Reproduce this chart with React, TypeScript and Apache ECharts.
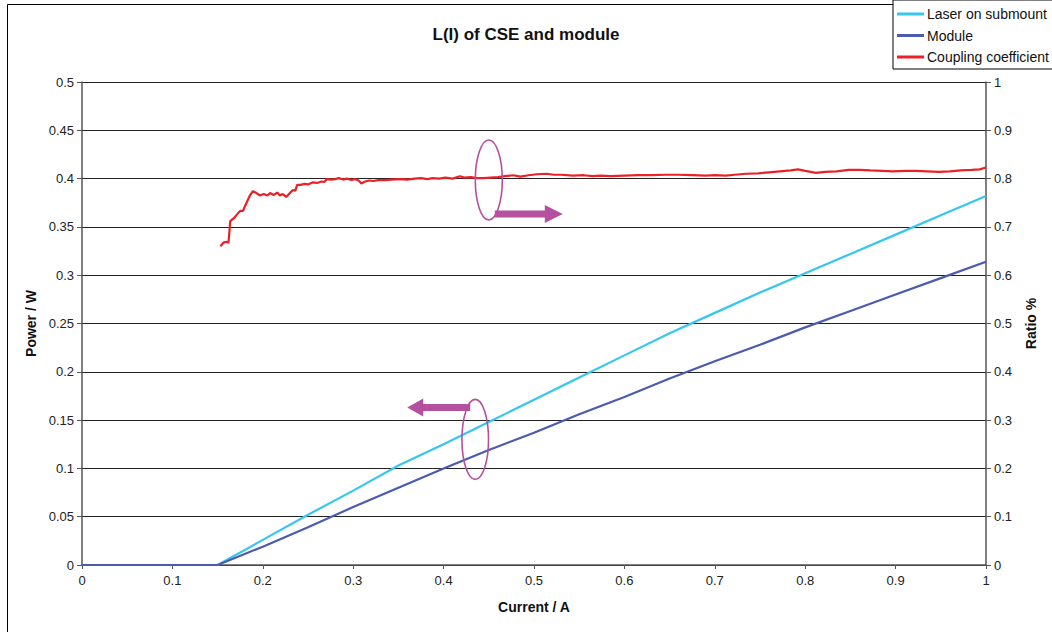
import React, { useEffect, useRef } from "react";
import * as echarts from "echarts";

const FONT = "'Liberation Sans', Arial, sans-serif";

const seriesNames = ["Laser on submount", "Module", "Coupling coefficient"];

const laserCurrent = [0, 0.05, 0.1, 0.15, 0.2, 0.25, 0.3, 0.35, 0.4, 0.45, 0.5, 0.55, 0.6, 0.65, 0.7, 0.75, 0.8, 0.85, 0.9, 0.95, 1.0];
const laserPower = [0, 0, 0, 0, 0.026, 0.052, 0.077, 0.103, 0.125, 0.148, 0.171, 0.194, 0.217, 0.24, 0.261, 0.282, 0.302, 0.322, 0.342, 0.362, 0.382];

const moduleCurrent = [0, 0.05, 0.1, 0.15, 0.2, 0.25, 0.3, 0.35, 0.4, 0.45, 0.5, 0.55, 0.6, 0.65, 0.7, 0.75, 0.8, 0.85, 0.9, 0.95, 1.0];
const modulePower = [0, 0, 0, 0, 0.019, 0.039, 0.06, 0.08, 0.1, 0.119, 0.137, 0.156, 0.174, 0.193, 0.211, 0.228, 0.246, 0.263, 0.28, 0.297, 0.314];

const couplingCurrent = [
  0.153, 0.157, 0.16, 0.162, 0.164, 0.168, 0.172, 0.175, 0.178, 0.182, 0.186, 0.189, 0.193, 0.197,
  0.201, 0.205, 0.208, 0.212, 0.216, 0.219, 0.222, 0.226, 0.23, 0.233, 0.236, 0.238, 0.242, 0.246,
  0.25, 0.255, 0.26, 0.265, 0.268, 0.271, 0.276, 0.28, 0.284, 0.289, 0.293, 0.298, 0.302, 0.306,
  0.309, 0.313, 0.318, 0.322, 0.328, 0.335, 0.342, 0.352, 0.36, 0.368, 0.375, 0.382, 0.388, 0.395,
  0.402, 0.41, 0.418, 0.423, 0.43, 0.437, 0.444, 0.452, 0.46, 0.468, 0.477, 0.485, 0.494, 0.503,
  0.514, 0.522, 0.53, 0.543, 0.555, 0.565, 0.573, 0.585, 0.6, 0.615, 0.63, 0.645, 0.66, 0.675,
  0.69, 0.7, 0.712, 0.722, 0.735, 0.748, 0.76, 0.772, 0.784, 0.792, 0.8, 0.812, 0.822, 0.835,
  0.848, 0.86, 0.872, 0.885, 0.897, 0.91, 0.922, 0.935, 0.948, 0.96, 0.972, 0.984, 0.993, 1.0,
];
const couplingRatio = [
  0.66, 0.668, 0.669, 0.667, 0.712, 0.718, 0.727, 0.733, 0.733, 0.75, 0.766, 0.774, 0.77, 0.765,
  0.768, 0.765, 0.77, 0.766, 0.771, 0.765, 0.768, 0.762, 0.77, 0.776, 0.775, 0.787, 0.787, 0.789,
  0.788, 0.792, 0.791, 0.794, 0.793, 0.799, 0.798, 0.799, 0.801, 0.798, 0.8, 0.797, 0.799, 0.796,
  0.79, 0.794, 0.796, 0.795, 0.797, 0.797, 0.798, 0.799, 0.798, 0.8, 0.801, 0.799, 0.801, 0.8,
  0.802, 0.8, 0.805, 0.802, 0.803, 0.801, 0.801, 0.802, 0.803, 0.805, 0.807, 0.804, 0.807, 0.809,
  0.81, 0.808, 0.808, 0.806, 0.807, 0.805, 0.806, 0.805, 0.806, 0.807, 0.807, 0.808, 0.808, 0.807,
  0.806, 0.807, 0.806, 0.808, 0.81, 0.811, 0.813, 0.815, 0.817, 0.819, 0.816, 0.812, 0.814, 0.815,
  0.818, 0.818, 0.817, 0.816, 0.815, 0.816, 0.816, 0.815, 0.814, 0.815, 0.817, 0.818, 0.819, 0.823,
];

const colors = ["#35c6f2", "#4a5bb0", "#ec2027"];
const annotationColor = "#b5509f";

// annotation anchors in data space
const rightAnchor = [0.45, 0.797]; // on right axis (ratio)
const leftAnchor = [0.435, 0.13]; // on left axis (power)

function zip(xs: number[], ys: number[]) {
  return xs.map((x, i) => [x, ys[i]]);
}

export default function App() {
  const ref = useRef<HTMLDivElement>(null);
  useEffect(() => {
    if (!ref.current) return;
    const chart = echarts.init(ref.current, null, { renderer: "svg" });
    const labelStyle = { color: "#222", fontFamily: FONT, fontSize: 13 };
    const nameStyle = { fontFamily: FONT, fontSize: 14, fontWeight: "bold", color: "#111" };
    chart.setOption({
      animation: false,
      backgroundColor: "#fff",
      title: {
        text: "L(I) of CSE and module",
        left: "center",
        top: 21,
        textStyle: { fontFamily: FONT, fontSize: 17, fontWeight: "bold", color: "#111" },
      },
      legend: {
        data: seriesNames,
        orient: "vertical",
        left: 893,
        top: 0,
        padding: [6, 40, 4, 4],
        itemGap: 5.5,
        itemWidth: 27,
        itemHeight: 3,
        icon: "rect",
        backgroundColor: "#fff",
        borderColor: "#000",
        borderWidth: 1,
        textStyle: { fontFamily: FONT, fontSize: 14, color: "#111", lineHeight: 16, padding: [0, 0, 0, -2] },
      },
      grid: { left: 82, right: 66, top: 82, bottom: 67, containLabel: false },
      xAxis: {
        type: "value",
        min: 0,
        max: 1,
        interval: 0.1,
        name: "Current / A",
        nameLocation: "middle",
        nameGap: 35,
        nameTextStyle: nameStyle,
        axisLine: { show: true, lineStyle: { color: "#555", width: 1.5 } },
        axisTick: { show: true, length: 4, lineStyle: { color: "#555" } },
        axisLabel: { ...labelStyle, margin: 9 },
        splitLine: { show: false },
      },
      yAxis: [
        {
          type: "value",
          min: 0,
          max: 0.5,
          interval: 0.05,
          name: "Power / W",
          nameLocation: "middle",
          nameRotate: 90,
          nameGap: 44,
          nameTextStyle: nameStyle,
          axisLine: { show: true, lineStyle: { color: "#555", width: 1.5 } },
          axisTick: { show: true, length: 5, lineStyle: { color: "#555" } },
          axisLabel: { ...labelStyle, margin: 8 },
          splitLine: { show: true, lineStyle: { color: "#222", width: 1 } },
        },
        {
          type: "value",
          min: 0,
          max: 1,
          interval: 0.1,
          position: "right",
          name: "Ratio %",
          nameLocation: "middle",
          nameRotate: 90,
          nameGap: 38,
          nameTextStyle: nameStyle,
          axisLine: { show: true, lineStyle: { color: "#555", width: 1.5 } },
          axisTick: { show: true, length: 5, lineStyle: { color: "#555" } },
          axisLabel: { ...labelStyle, margin: 8 },
          splitLine: { show: false },
        },
      ],
      series: [
        {
          name: seriesNames[0],
          type: "line",
          yAxisIndex: 0,
          data: zip(laserCurrent, laserPower),
          showSymbol: false,
          lineStyle: { color: colors[0], width: 2.2 },
          itemStyle: { color: colors[0] },
          z: 3,
        },
        {
          name: seriesNames[1],
          type: "line",
          yAxisIndex: 0,
          data: zip(moduleCurrent, modulePower),
          showSymbol: false,
          lineStyle: { color: colors[1], width: 2.2 },
          itemStyle: { color: colors[1] },
          z: 4,
        },
        {
          name: seriesNames[2],
          type: "line",
          yAxisIndex: 1,
          data: zip(couplingCurrent, couplingRatio),
          showSymbol: false,
          lineStyle: { color: colors[2], width: 2.2 },
          itemStyle: { color: colors[2] },
          z: 5,
        },
      ],
    });

    const p1 = chart.convertToPixel({ xAxisIndex: 0, yAxisIndex: 1 }, rightAnchor) as number[];
    const p2 = chart.convertToPixel({ xAxisIndex: 0, yAxisIndex: 0 }, leftAnchor) as number[];
    const b1x = p1[0] + 6;
    const b1y = p1[1] + 34;
    const b2x = p2[0] - 5;
    const b2y = p2[1] - 32;
    chart.setOption({
      graphic: [
        {
          type: "rect",
          z: -10,
          silent: true,
          shape: { x: 7.5, y: 4.5, width: 1100, height: 700 },
          style: { fill: "none", stroke: "#000", lineWidth: 1 },
        },
        {
          type: "polygon",
          z: 10,
          shape: {
            points: [
              [b1x, b1y - 3.5], [b1x + 50, b1y - 3.5], [b1x + 50, b1y - 9], [b1x + 68, b1y],
              [b1x + 50, b1y + 9], [b1x + 50, b1y + 3.5], [b1x, b1y + 3.5],
            ],
          },
          style: { fill: annotationColor },
        },
        {
          type: "ellipse",
          z: 11,
          shape: { cx: p1[0], cy: p1[1], rx: 13.5, ry: 40 },
          style: { fill: "none", stroke: annotationColor, lineWidth: 1.6 },
        },
        {
          type: "polygon",
          z: 10,
          shape: {
            points: [
              [b2x, b2y - 3.5], [b2x - 47, b2y - 3.5], [b2x - 47, b2y - 9], [b2x - 63, b2y],
              [b2x - 47, b2y + 9], [b2x - 47, b2y + 3.5], [b2x, b2y + 3.5],
            ],
          },
          style: { fill: annotationColor },
        },
        {
          type: "ellipse",
          z: 11,
          shape: { cx: p2[0], cy: p2[1], rx: 13.3, ry: 40 },
          style: { fill: "none", stroke: annotationColor, lineWidth: 1.6 },
        },
      ],
    });

    return () => chart.dispose();
  }, []);
  return (
    <div
      ref={ref}
      style={{ position: "absolute", left: 0, top: 0, width: 1052, height: 632 }}
    />
  );
}
